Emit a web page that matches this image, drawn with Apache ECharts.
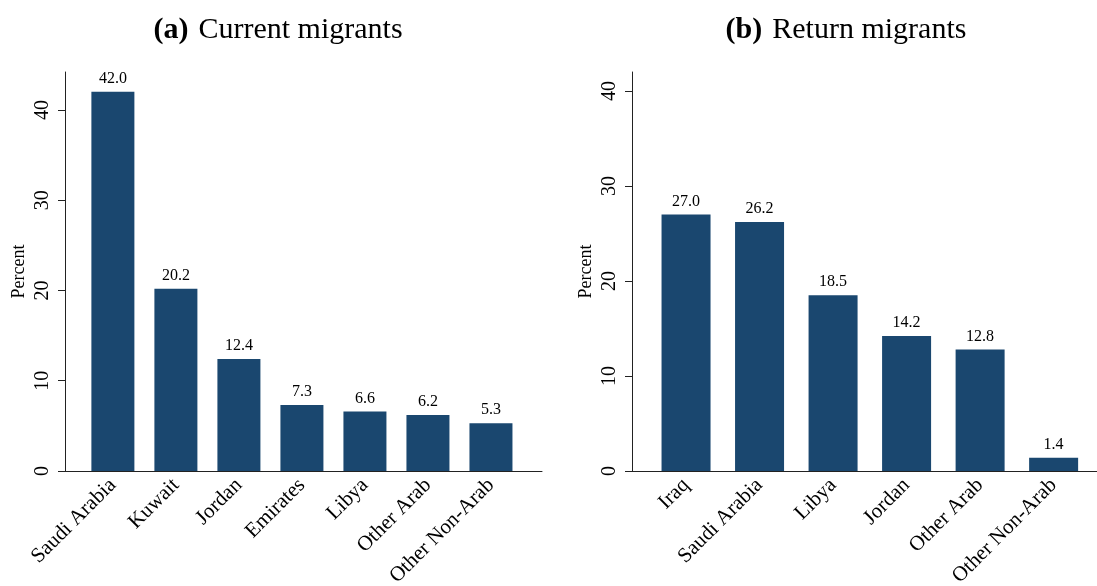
<!DOCTYPE html>
<html>
<head>
<meta charset="utf-8">
<script src="https://cdn.jsdelivr.net/npm/echarts@6/dist/echarts.min.js"></script>
<style>
  html, body { margin: 0; padding: 0; background: #fff; }
  #chart { width: 1097px; height: 586px; }
</style>
</head>
<body>
<div id="chart"></div>
<script>
// panel (a): current migrants
var catsA = ["Saudi Arabia", "Kuwait", "Jordan", "Emirates", "Libya", "Other Arab", "Other Non-Arab"];
var valsA = [42.0, 20.2, 12.4, 7.3, 6.6, 6.2, 5.3];
// panel (b): return migrants
var catsB = ["Iraq", "Saudi Arabia", "Libya", "Jordan", "Other Arab", "Other Non-Arab"];
var valsB = [27.0, 26.2, 18.5, 14.2, 12.8, 1.4];
var yTicks = [0, 10, 20, 30, 40];

var navy = "#1a476f";
var serif = "Liberation Serif";

function idx(arr) {
  var out = [];
  for (var i = 0; i < arr.length; i++) out.push(i);
  return out;
}

function xAxisFor(cats, gridIndex, min, max) {
  return {
    type: "value",
    gridIndex: gridIndex,
    min: min,
    max: max,
    splitLine: { show: false },
    axisTick: { show: false },
    axisLine: { show: true, onZero: false, lineStyle: { color: "#222", width: 1 } },
    axisLabel: {
      customValues: idx(cats),
      rotate: 45,
      margin: 11,
      fontFamily: serif,
      fontSize: 21,
      color: "#000",
      formatter: function (v) { return cats[Math.round(v)]; }
    }
  };
}

function yAxisFor(gridIndex, max) {
  return {
    type: "value",
    gridIndex: gridIndex,
    min: 0,
    max: max,
    interval: 10,
    name: "Percent",
    nameLocation: "middle",
    nameGap: 37,
    nameRotate: 90,
    nameTextStyle: { fontFamily: serif, fontSize: 18, color: "#000" },
    splitLine: { show: false },
    axisLine: { show: true, onZero: false, lineStyle: { color: "#222", width: 1 } },
    axisTick: { show: true, length: 7, lineStyle: { color: "#222" }, customValues: yTicks },
    axisLabel: {
      customValues: yTicks,
      rotate: 90,
      margin: 12,
      fontFamily: serif,
      fontSize: 20,
      color: "#000"
    }
  };
}

function barSeries(vals, axisIndex, width) {
  return {
    type: "bar",
    xAxisIndex: axisIndex,
    yAxisIndex: axisIndex,
    barWidth: width,
    data: vals.map(function (v, i) { return [i, v]; }),
    itemStyle: { color: navy },
    label: {
      show: true,
      position: "top",
      distance: 5,
      fontFamily: serif,
      fontSize: 16,
      color: "#000",
      formatter: function (p) { return p.value[1].toFixed(1); }
    }
  };
}

function titleFor(letter, text, x) {
  return {
    text: "{b|(" + letter + ")}  {n|" + text + "}",
    left: x,
    top: 10,
    textAlign: "center",
    textStyle: {
      rich: {
        b: { fontFamily: serif, fontWeight: "bold", fontSize: 30, color: "#000" },
        n: { fontFamily: serif, fontWeight: "normal", fontSize: 30, color: "#000" }
      }
    }
  };
}

var chart = echarts.init(document.getElementById("chart"), null, { renderer: "canvas" });
chart.setOption({
  animation: false,
  title: [
    titleFor("a", "Current migrants", 273),
    titleFor("b", "Return migrants", 841)
  ],
  grid: [
    { left: 65, right: 555, top: 72, bottom: 115, outerBoundsMode: "none", containLabel: false },
    { left: 632, right: 0, top: 72, bottom: 115, outerBoundsMode: "none", containLabel: false }
  ],
  xAxis: [
    xAxisFor(catsA, 0, -0.76, 6.81),
    xAxisFor(catsB, 1, -0.735, 5.59)
  ],
  yAxis: [
    yAxisFor(0, 44.2),
    yAxisFor(1, 42)
  ],
  series: [
    barSeries(valsA, 0, 43),
    barSeries(valsB, 1, 49)
  ]
});
</script>
</body>
</html>
